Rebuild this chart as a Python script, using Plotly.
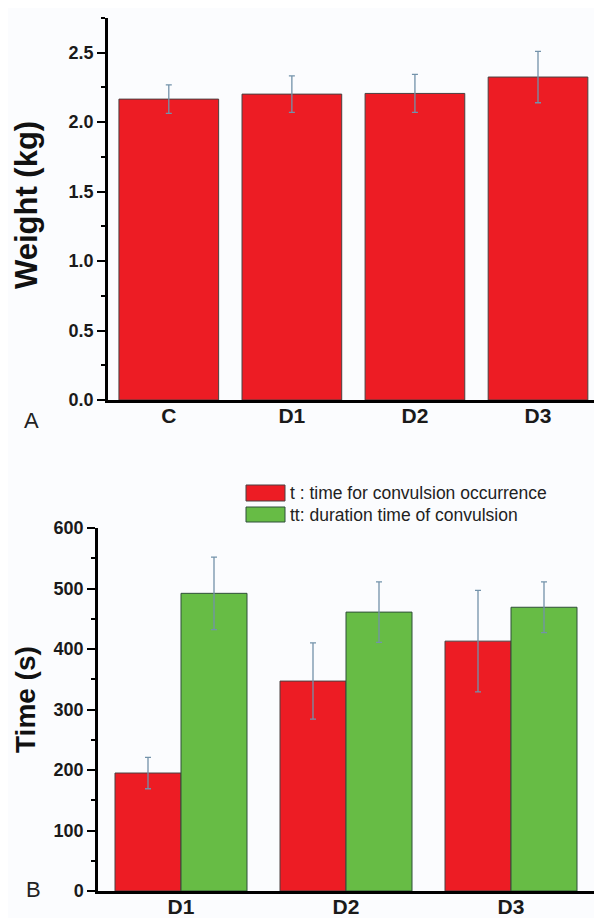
import plotly.graph_objects as go

# ---- data ----
cats_a = ["C", "D1", "D2", "D3"]
weight = [2.166, 2.202, 2.207, 2.325]
weight_err = [0.103, 0.132, 0.137, 0.185]
ticks_a = [0, 0.5, 1.0, 1.5, 2.0, 2.5]
ticklabels_a = ["0.0", "0.5", "1.0", "1.5", "2.0", "2.5"]

cats_b = ["D1", "D2", "D3"]
t_name = "t : time for convulsion occurrence"
tt_name = "tt: duration time of convulsion"
t_vals = [195, 347, 413]
t_err = [26, 63, 84]
tt_vals = [492, 461, 469]
tt_err = [60, 50, 42]

title_a = "Weight (kg)"
title_b = "Time (s)"

RED = "#ED1C24"
GREEN = "#67BC45"
ERR = "#7392aa"
BG = "#fbfcfe"
FONT = "Liberation Sans"

# page body has an 8px default margin; figure fills the rest of the window
OFF = 8
W, H = 602 - OFF, 918 - OFF
def px(x):
    return (x - OFF) / W
def py(y):
    return 1 - (y - OFF) / H

fig = go.Figure()

fig.add_trace(go.Bar(
    x=cats_a, y=weight, width=0.81,
    marker=dict(color=RED, line=dict(color="#4a4040", width=1)),
    error_y=dict(type="data", array=weight_err, color=ERR, thickness=1.3, width=3),
    xaxis="x", yaxis="y", showlegend=False,
))
fig.add_trace(go.Bar(
    x=cats_b, y=t_vals, name=t_name, offsetgroup="t",
    marker=dict(color=RED, line=dict(color="#4a4040", width=1)),
    error_y=dict(type="data", array=t_err, color=ERR, thickness=1.3, width=3),
    xaxis="x2", yaxis="y2", showlegend=False,
))
fig.add_trace(go.Bar(
    x=cats_b, y=tt_vals, name=tt_name, offsetgroup="tt",
    marker=dict(color=GREEN, line=dict(color="#2f4f3a", width=1)),
    error_y=dict(type="data", array=tt_err, color=ERR, thickness=1.3, width=3),
    xaxis="x2", yaxis="y2", showlegend=False,
))

tickfont = dict(family=FONT, size=18, color="#1a1a1a", weight="bold")
catfont = dict(family=FONT, size=21, color="#1a1a1a", weight="bold")

common_y = dict(showline=True, linewidth=2.5, linecolor="black", ticks="outside",
                ticklen=8, tickwidth=2, tickcolor="black", showgrid=False,
                zeroline=False, tickfont=tickfont, automargin=False)
common_x = dict(showline=True, linewidth=2.5, linecolor="black", ticks="",
                showgrid=False, zeroline=False, tickfont=catfont, type="category",
                automargin=False, ticklabelstandoff=-5)

fig.update_layout(
    width=W, height=H,
    margin=dict(l=0, r=0, t=0, b=0, autoexpand=False),
    paper_bgcolor=BG, plot_bgcolor=BG,
    barmode="group", bargap=0.2, bargroupgap=0,
    font=dict(family=FONT),
    xaxis=dict(domain=[px(108), 1.0], range=[-0.494, 3.52], anchor="y", **common_x),
    yaxis=dict(domain=[py(400), py(18)], range=[0, 2.75], anchor="x",
               tickvals=ticks_a, ticktext=ticklabels_a,
               minor=dict(ticks="outside", ticklen=4, tickwidth=2, tickcolor="black", dtick=0.25, tick0=0),
               **common_y),
    xaxis2=dict(domain=[px(98), px(594)], range=[-0.503, 2.503], anchor="y2", **common_x),
    yaxis2=dict(domain=[py(891), py(528)], range=[0, 600], anchor="x2", dtick=100,
                minor=dict(ticks="outside", ticklen=4, tickwidth=2, tickcolor="black", dtick=50, tick0=0),
                **common_y),
)

# axis titles
fig.add_annotation(x=px(26), y=py(205), xref="paper", yref="paper", text=title_a, textangle=-90,
                   showarrow=False, xanchor="center", yanchor="middle",
                   font=dict(family=FONT, size=31, color="#111", weight="bold"))
fig.add_annotation(x=px(25), y=py(700), xref="paper", yref="paper", text=title_b, textangle=-90,
                   showarrow=False, xanchor="center", yanchor="middle",
                   font=dict(family=FONT, size=28, color="#111", weight="bold"))

# panel letters
fig.add_annotation(x=px(22), y=py(421), xref="paper", yref="paper", text="A", showarrow=False,
                   font=dict(family=FONT, size=22, color="#222"))
fig.add_annotation(x=px(24), y=py(904), xref="paper", yref="paper", text="B", showarrow=False,
                   font=dict(family=FONT, size=22, color="#222"))

# legend (manual swatches)
for (y0, y1, col, lc, name) in [(485, 501, RED, "#4a4040", t_name), (507, 522, GREEN, "#2f4f3a", tt_name)]:
    fig.add_shape(type="rect", xref="paper", yref="paper",
                  x0=px(246), x1=px(285), y0=py(y1), y1=py(y0),
                  fillcolor=col, line=dict(color=lc, width=1))
    fig.add_annotation(x=px(288), y=py((y0 + y1) / 2), xref="paper", yref="paper",
                       text=name, showarrow=False, xanchor="left", yanchor="middle",
                       font=dict(family=FONT, size=17.5, color="#222"))

fig.write_html("out.html")
